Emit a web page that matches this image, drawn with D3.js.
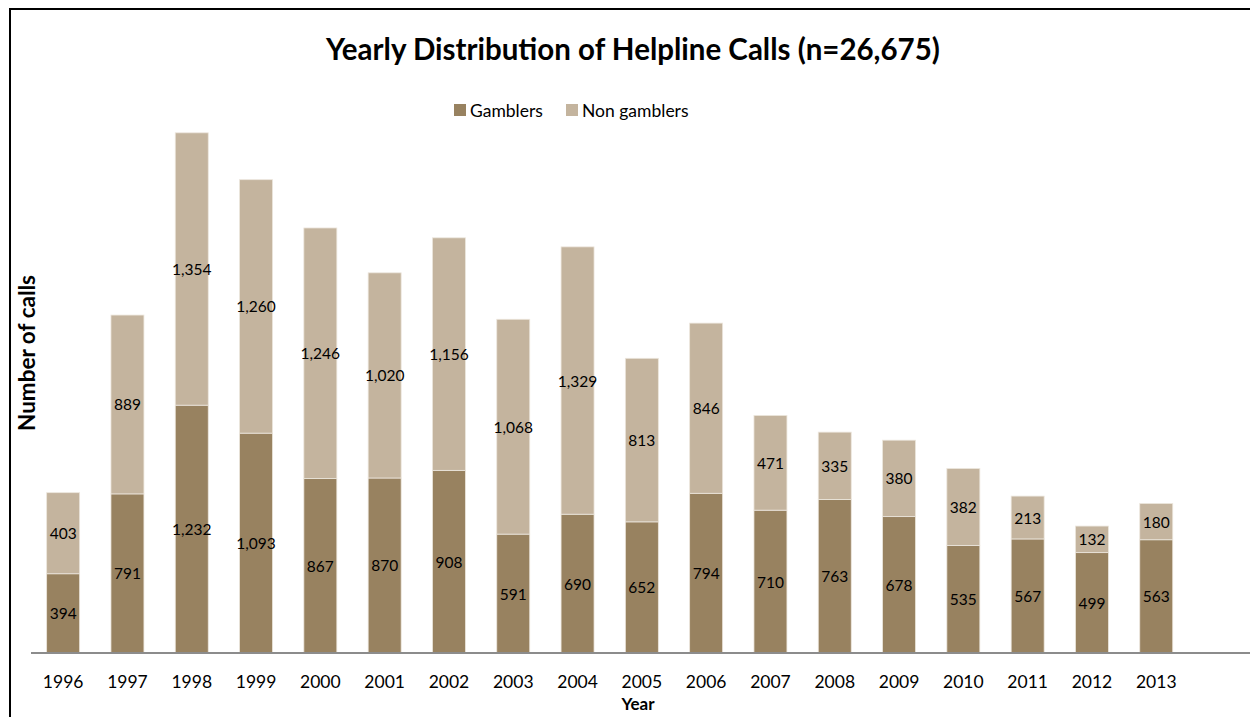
<!DOCTYPE html>
<html>
<head>
<meta charset="utf-8">
<script src="https://cdnjs.cloudflare.com/ajax/libs/d3/7.8.5/d3.min.js"></script>
<style>
html,body{margin:0;padding:0;background:#fff;overflow:hidden;}
svg{display:block;font-family:Lato,"Open Sans",sans-serif;}
</style>
</head>
<body>
<svg id="chart" width="1250" height="717"></svg>
<script>
const years = ["1996","1997","1998","1999","2000","2001","2002","2003","2004","2005","2006","2007","2008","2009","2010","2011","2012","2013"];
const gamblers = [394,791,1232,1093,867,870,908,591,690,652,794,710,763,678,535,567,499,563];
const nonGamblers = [403,889,1354,1260,1246,1020,1156,1068,1329,813,846,471,335,380,382,213,132,180];
const seriesNames = ["Gamblers","Non gamblers"];
const seriesColors = ["#988260","#c4b49e"];
const titleText = "Yearly Distribution of Helpline Calls (n=26,675)";

const svg = d3.select("#chart");
const W = 1250, H = 717;

// chart border (extends past the visible window, as in reference)
svg.append("rect").attr("x",10).attr("y",9).attr("width",1400).attr("height",900)
  .attr("fill","none").attr("stroke","#000").attr("stroke-width",2);

const plotLeft = 31, step = 64.3;
const x = d3.scaleBand().domain(years)
  .range([plotLeft, plotLeft + step*years.length])
  .paddingInner(0.487).paddingOuter(0.2435);
const y = d3.scaleLinear().domain([0,2600]).range([653,130]);

const data = years.map((yr,i)=>({year:yr, g:gamblers[i], n:nonGamblers[i]}));
const stack = d3.stack().keys(["g","n"])(data);

const layers = svg.append("g").selectAll("g").data(stack).join("g")
  .attr("fill",(d,i)=>seriesColors[i]);
layers.selectAll("rect").data(d=>d).join("rect")
  .attr("x",d=>x(d.data.year))
  .attr("width",x.bandwidth())
  .attr("y",d=>y(d[1]))
  .attr("height",d=>y(d[0])-y(d[1]))
  .attr("stroke","#ece6dd").attr("stroke-width",0.8);

const fmt = d3.format(",");
const labels = svg.append("g");
stack.forEach((layer)=>{
  labels.selectAll(null).data(layer).join("text")
    .attr("x",d=>x(d.data.year)+x.bandwidth()/2)
    .attr("y",d=>(y(d[0])+y(d[1]))/2)
    .attr("text-anchor","middle").attr("dominant-baseline","central")
    .attr("font-size",15.5).attr("fill","#000")
    .text(d=>fmt(d[1]-d[0]));
});

// x axis
const xAxis = svg.append("g").attr("transform","translate(0,653)")
  .call(d3.axisBottom(x).tickSize(0).tickPadding(0));
xAxis.select(".domain").remove();
xAxis.selectAll("text").attr("font-family","Lato,'Open Sans',sans-serif")
  .attr("font-size",17.5).attr("fill","#000").attr("dy",0).attr("y",35);
svg.append("line").attr("x1",plotLeft).attr("x2",W+10).attr("y1",653).attr("y2",653)
  .attr("stroke","#8c8c8c").attr("stroke-width",2);

// titles
svg.append("text").attr("x",633).attr("y",60).attr("text-anchor","middle")
  .attr("font-size",29.5).attr("font-weight","bold").text(titleText);
svg.append("text").attr("x",638).attr("y",710).attr("text-anchor","middle")
  .attr("font-size",17).attr("font-weight","bold").text("Year");
svg.append("text").attr("transform","translate(35,353) rotate(-90)").attr("text-anchor","middle")
  .attr("font-size",22.5).attr("font-weight","bold").text("Number of calls");

// legend
const legendPos = [[454,470],[566,582]];
seriesNames.forEach((nm,i)=>{
  svg.append("rect").attr("x",legendPos[i][0]).attr("y",104).attr("width",12).attr("height",12)
    .attr("fill",seriesColors[i]);
  svg.append("text").attr("x",legendPos[i][1]).attr("y",116.5).attr("font-size",17.5)
    .attr("fill","#000").text(nm);
});
</script>
</body>
</html>
